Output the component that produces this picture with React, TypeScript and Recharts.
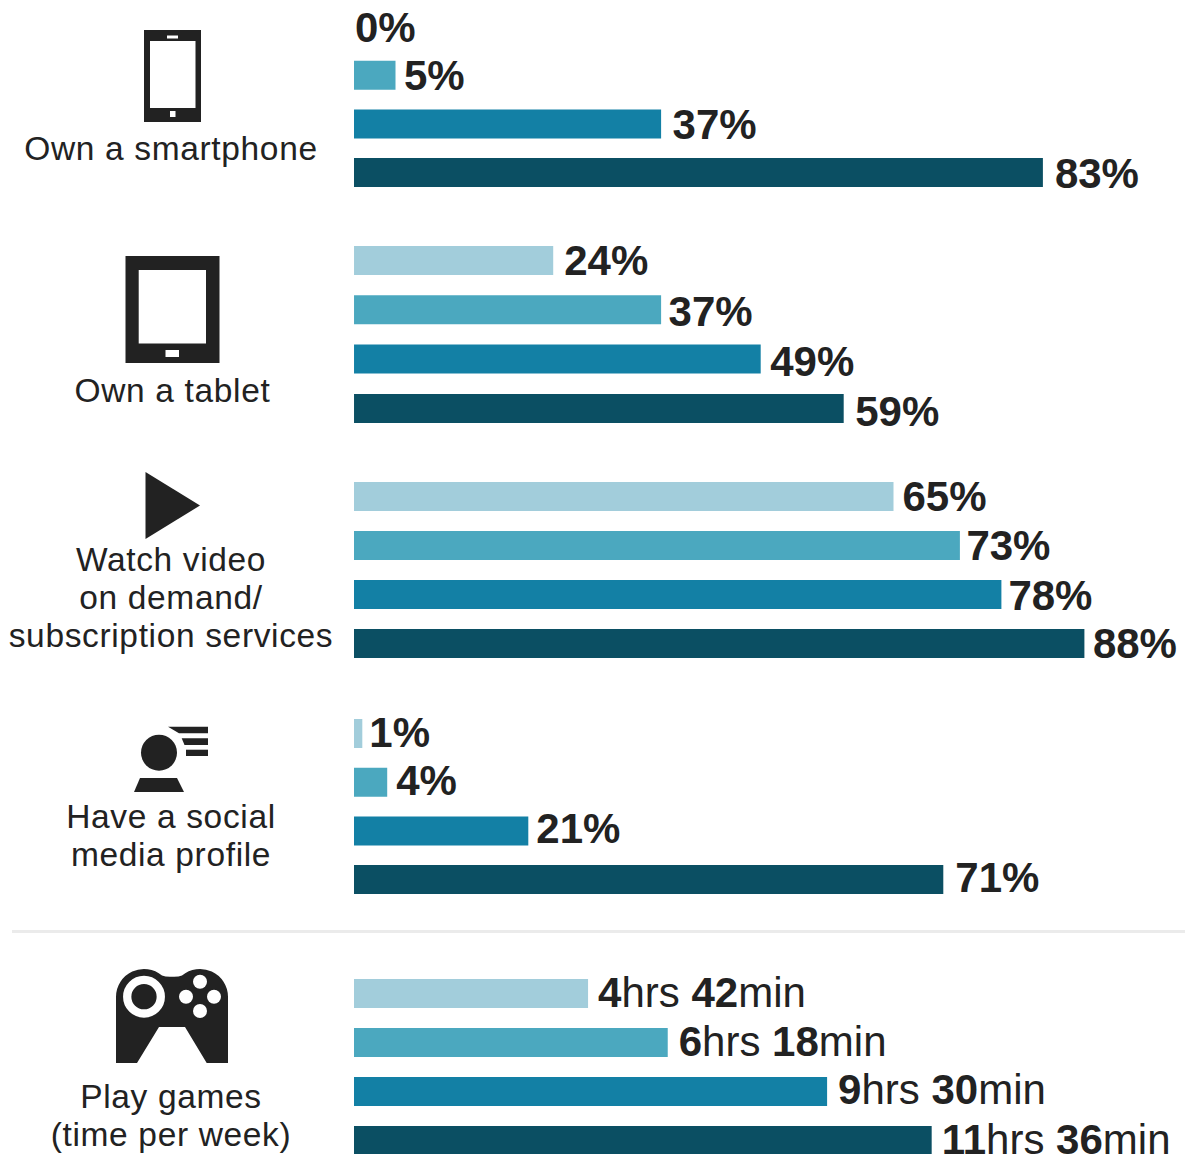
import React from "react";
import { Bar, BarChart, Cell, LabelList, XAxis, YAxis } from "recharts";

const barColors = ["#A2CDDB", "#4BA8BF", "#1380A5", "#0B4F63"];
const ink = "#222222";
const sans = "'Liberation Sans', Arial, sans-serif";

const smartphoneValues = [0, 5, 37, 83];
const tabletValues = [24, 37, 49, 59];
const videoValues = [65, 73, 78, 88];
const socialValues = [1, 4, 21, 71];
// weekly gaming time, in minutes
const gameMinutes = [282, 378, 570, 696];

const gameHours = ["4", "6", "9", "11"];
const gameMins = ["42", "18", "30", "36"];

const percent = (v: number) => `${v}%`;

// px between a bar's end and its label
const smartphoneGaps = [1, 8.5, 11.5, 12];
const tabletGaps = [11, 7.5, 9.5, 11.5];
const videoGaps = [9, 6.5, 7, 8.5];
const socialGaps = [7, 9, 8, 12];
const gameGaps = [10, 11, 11, 10];

// labels sit a little off their bar's centre line
const smartphoneNudge = [1, 0, 0, 0];
const tabletNudge = [0, 1, 2, 3];
const videoNudge = [-1, -1, 0, -1];
const socialNudge = [-1, -2, -3, -3];
const gameNudge = [-2, -2, -3, -2];

// room under the last row so its label isn't clipped by the chart's svg
const labelRoom = 20;

function makeRows(values: number[], labels: string[]) {
  return values.map((value, i) => ({ row: i, value, label: labels[i] }));
}

function BarGroup({ rows, gaps, nudge, top, pitch, domainMax, timeLabels }: any) {
  const renderLabel = (props: any) => {
    const { x, y, width, height, index } = props;
    const tx = x + width + gaps[index];
    const ty = y + height / 2 + 15 + nudge[index];
    if (timeLabels) {
      return (
        <text x={tx} y={ty} fontFamily={sans} fontSize={42} fill={ink}>
          <tspan fontWeight="bold">{gameHours[index]}</tspan>
          <tspan>hrs </tspan>
          <tspan fontWeight="bold">{gameMins[index]}</tspan>
          <tspan>min</tspan>
        </text>
      );
    }
    return (
      <text x={tx} y={ty} fontFamily={sans} fontSize={42} fontWeight="bold" fill={ink}>
        {rows[index].label}
      </text>
    );
  };
  return (
    <div style={{ position: "absolute", left: 353.5, top }}>
      <BarChart
        width={830}
        height={pitch * 4 + labelRoom}
        data={rows}
        layout="vertical"
        margin={{ top: 0, right: 0, bottom: labelRoom, left: 0 }}
      >
        <XAxis type="number" domain={[0, domainMax]} hide />
        <YAxis type="category" dataKey="row" hide />
        {/* minPointSize keeps the 0% row in the label list */}
        <Bar dataKey="value" barSize={29} minPointSize={0.01} isAnimationActive={false}>
          {rows.map((r: any) => (
            <Cell key={r.row} fill={barColors[r.row]} />
          ))}
          <LabelList dataKey="label" content={renderLabel} />
        </Bar>
      </BarChart>
    </div>
  );
}

function CategoryText({ lines, baseline, cx = 171 }: { lines: string[]; baseline: number; cx?: number }) {
  return (
    <text
      x={cx}
      y={baseline}
      textAnchor="middle"
      fontFamily={sans}
      fontSize={33.5}
      letterSpacing={0.65}
      fill={ink}
    >
      {lines.map((line, i) => (
        <tspan key={line} x={cx} dy={i === 0 ? 0 : 38}>
          {line}
        </tspan>
      ))}
    </text>
  );
}

function Icons() {
  return (
    <g fill={ink}>
      {/* phone */}
      <path
        fillRule="evenodd"
        d="M144 30H201V122H144Z M150 41V108H195.5V41Z M167 35.5V38.5H178V35.5Z M170 111V117H175.5V111Z"
      />
      {/* tablet */}
      <path
        fillRule="evenodd"
        d="M125.5 256H219.5V363H125.5Z M138.7 270V343.5H206V270Z M165.5 350V357H179V350Z"
      />
      {/* play */}
      <path d="M145.5 472L200 505.5L145.5 539Z" />
      {/* profile */}
      <circle cx={159} cy={752.7} r={18} />
      <path d="M140 778H177L184 792H134Z" />
      <path d="M168 726.7H208V733.3H179Z" />
      <path d="M181.7 738.3H208V745H184.5Z" />
      <path d="M186 749.7H208V756H186Z" />
      {/* gamepad */}
      <path d="M116 996.7A28 28 0 0 1 162 975.5Q165 976.7 170 976.7H174Q179 976.7 182 975.5A28 28 0 0 1 228 996.7V1063H206.7L185 1027H159L137 1063H116Z" />
      <circle cx={144} cy={996.7} r={16.8} fill="none" stroke="#fff" strokeWidth={8.3} />
      <g fill="#fff">
        <circle cx={200} cy={981.7} r={7} />
        <circle cx={186} cy={996.7} r={7} />
        <circle cx={214} cy={996.7} r={7} />
        <circle cx={200} cy={1011} r={7} />
      </g>
    </g>
  );
}

export default function App() {
  return (
    <div
      style={{
        position: "absolute",
        left: 0,
        top: 0,
        width: 1185,
        height: 1154,
        overflow: "hidden",
        background: "#fff",
      }}
    >
      <svg width={1185} height={1154} style={{ position: "absolute", left: 0, top: 0 }}>
        <Icons />
        <CategoryText lines={["Own a smartphone"]} baseline={160} />
        <CategoryText lines={["Own a tablet"]} baseline={402} cx={172.5} />
        <CategoryText lines={["Watch video", "on demand/", "subscription services"]} baseline={571} />
        <CategoryText lines={["Have a social", "media profile"]} baseline={828} />
        <CategoryText lines={["Play games", "(time per week)"]} baseline={1108} />
        <rect x={12} y={930} width={1173} height={3} fill="#EBEBEB" />
      </svg>
      <BarGroup rows={makeRows(smartphoneValues, smartphoneValues.map(percent))} gaps={smartphoneGaps} nudge={smartphoneNudge} top={2} pitch={48.7} domainMax={100} />
      <BarGroup rows={makeRows(tabletValues, tabletValues.map(percent))} gaps={tabletGaps} nudge={tabletNudge} top={236} pitch={49.3} domainMax={100} />
      <BarGroup rows={makeRows(videoValues, videoValues.map(percent))} gaps={videoGaps} nudge={videoNudge} top={471.5} pitch={49} domainMax={100} />
      <BarGroup rows={makeRows(socialValues, socialValues.map(percent))} gaps={socialGaps} nudge={socialNudge} top={708.5} pitch={48.7} domainMax={100} />
      <BarGroup rows={makeRows(gameMinutes, gameHours)} gaps={gameGaps} nudge={gameNudge} top={968.5} pitch={49} domainMax={1000} timeLabels />
    </div>
  );
}
